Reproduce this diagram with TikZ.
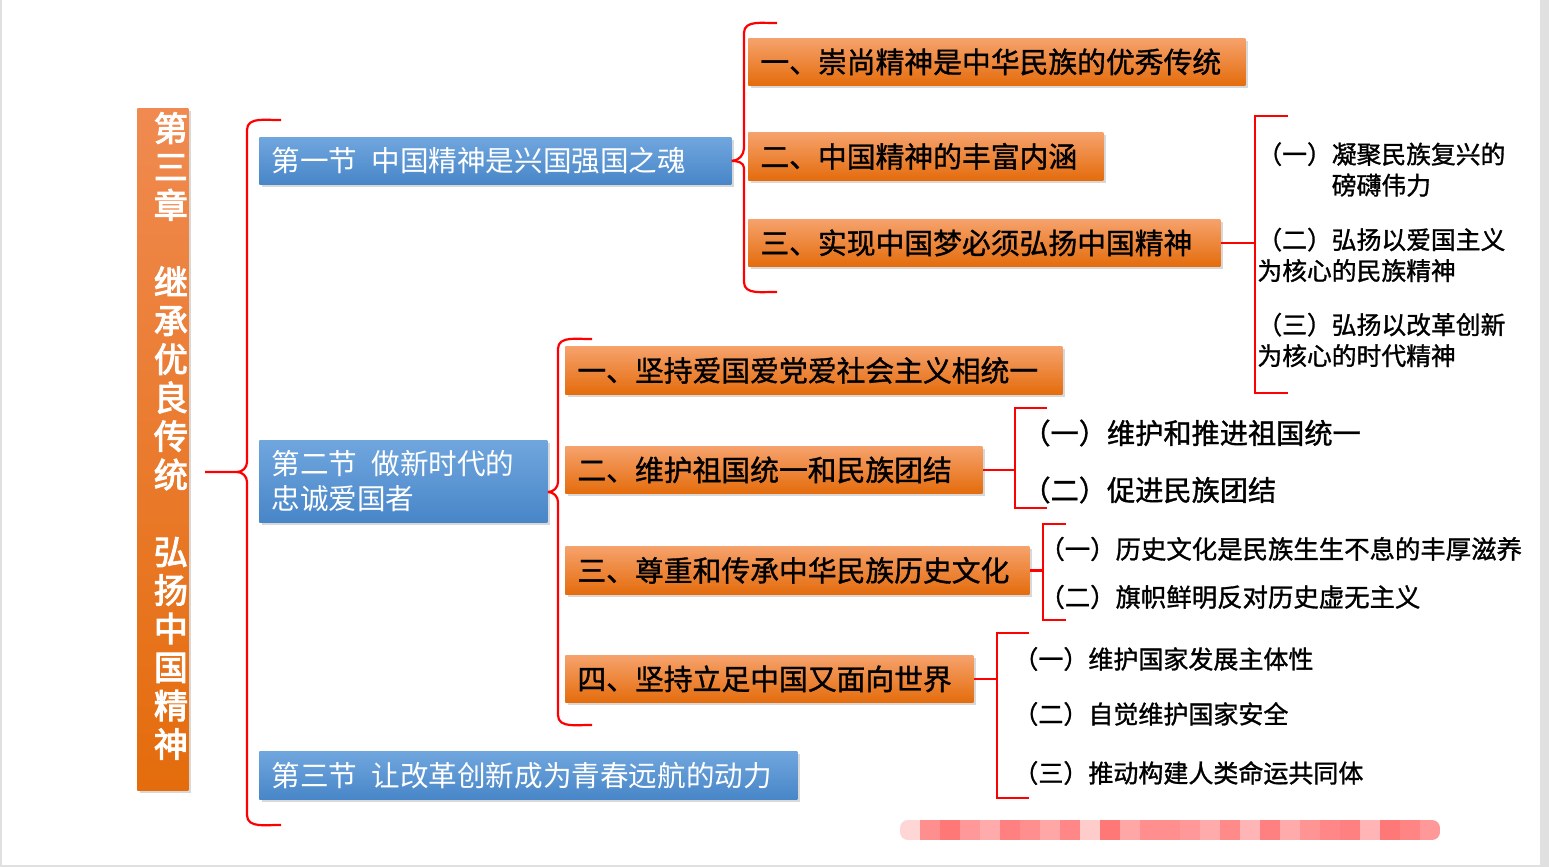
\documentclass[tikz,border=0pt]{standalone}
\usepackage{fontspec}
\setmainfont{Noto Sans CJK SC}
\newfontfamily\heavycjk{Noto Sans CJK SC}[FakeBold=1.2]
\newfontfamily\titlecjk{Noto Sans CJK SC}[FakeBold=3]
\usepackage{tikz}
\usetikzlibrary{shadows, calc}
\usepackage{xcolor}
\definecolor{titletop}{RGB}{240, 138, 80}
\definecolor{orangetop}{RGB}{246, 162, 108}
\definecolor{orangebottom}{RGB}{228, 108, 12}
\definecolor{bluetop}{RGB}{112, 166, 222}
\definecolor{bluebottom}{RGB}{72, 134, 200}
\definecolor{linered}{RGB}{255, 0, 0}
\definecolor{framegray}{RGB}{224, 224, 224}
\tikzset{
    tbox/.style={anchor=north west, top color=titletop, bottom color=orangebottom, inner sep=0pt,
        drop shadow={shadow xshift=1.5pt, shadow yshift=-1.5pt, opacity=0.3}},
    obox/.style={anchor=north west, top color=orangetop, bottom color=orangebottom, inner xsep=6pt, inner ysep=0pt,
        align=left, text=black, font=\heavycjk\fontsize{14.4}{17}\selectfont,
        drop shadow={shadow xshift=1.5pt, shadow yshift=-1.5pt, opacity=0.3}},
    bbox/.style={anchor=north west, top color=bluetop, bottom color=bluebottom, inner xsep=6pt, inner ysep=0pt,
        align=left, text=white, font=\fontsize{14.3}{17.5}\selectfont,
        drop shadow={shadow xshift=1.5pt, shadow yshift=-1.5pt, opacity=0.3}},
    item/.style={anchor=west, inner sep=0pt, align=left, text=black},
    redline/.style={draw=linered, line width=1.1pt},
}

\begin{document}
\begin{tikzpicture}[x=0.5pt, y=-0.5pt]
    \useasboundingbox (0,0) rectangle (1549,867);
    \fill[white] (0,0) rectangle (1549,867);
    \fill[framegray] (1540,0) rectangle (1549,867);
    \draw[framegray, line width=1pt] (1,0) -- (1,866) -- (1540,866);

    \node (title) [tbox, minimum width=25.5pt, minimum height=341pt] at (137,108) {};
    \node (titletext) [text=white, inner sep=0pt, align=center, font=\titlecjk\fontsize{17}{19.25}\selectfont]
        at ($(title.north)+(8,328)$) {第\\三\\章\\[19.25pt]继\\承\\优\\良\\传\\统\\[19.25pt]弘\\扬\\中\\国\\精\\神};

    \node (s1) [bbox, text width=224pt, minimum height=23.5pt] at (259,137) {第一节\hspace{0.5em}中国精神是兴国强国之魂};
    \node (s2) [bbox, text width=132pt, minimum height=41pt] at (259,440) {第二节\hspace{0.5em}做新时代的\\忠诚爱国者};
    \node (s3) [bbox, text width=257pt, minimum height=24pt] at (259,751) {第三节\hspace{0.5em}让改革创新成为青春远航的动力};

    \node (o1) [obox, text width=236.5pt, minimum height=23.5pt] at (748,38) {一、崇尚精神是中华民族的优秀传统};
    \node (o2) [obox, text width=165.5pt, minimum height=24pt] at (748,132) {二、中国精神的丰富内涵};
    \node (o3) [obox, text width=224pt, minimum height=23.5pt] at (748,219) {三、实现中国梦必须弘扬中国精神};

    \node (p1) [obox, text width=236.5pt, minimum height=24pt] at (565,346) {一、坚持爱国爱党爱社会主义相统一};
    \node (p2) [obox, text width=196.5pt, minimum height=23.5pt] at (565,446) {二、维护祖国统一和民族团结};
    \node (p3) [obox, text width=220pt, minimum height=24pt] at (565,546) {三、尊重和传承中华民族历史文化};
    \node (p4) [obox, text width=192pt, minimum height=23.5pt] at (565,655) {四、坚持立足中国又面向世界};

    \node (a1) [item, font=\heavycjk\fontsize{12.4}{15.5}\selectfont] at (1257,169.5) {（一）凝聚民族复兴的\\\hspace*{3em}磅礴伟力};
    \node (a2) [item, font=\heavycjk\fontsize{12.4}{15.5}\selectfont] at (1257,255) {（二）弘扬以爱国主义\\为核心的民族精神};
    \node (a3) [item, font=\heavycjk\fontsize{12.4}{15.5}\selectfont] at (1257,340) {（三）弘扬以改革创新\\为核心的时代精神};

    \node (b1) [item, font=\heavycjk\fontsize{14.1}{17}\selectfont] at (1022,433) {（一）维护和推进祖国统一};
    \node (b2) [item, font=\heavycjk\fontsize{14.1}{17}\selectfont] at (1022,490) {（二）促进民族团结};

    \node (c1) [item, font=\heavycjk\fontsize{12.7}{15}\selectfont] at (1039,549) {（一）历史文化是民族生生不息的丰厚滋养};
    \node (c2) [item, font=\heavycjk\fontsize{12.7}{15}\selectfont] at (1039,597) {（二）旗帜鲜明反对历史虚无主义};

    \node (d1) [item, font=\heavycjk\fontsize{12.5}{15}\selectfont] at (1013,659) {（一）维护国家发展主体性};
    \node (d2) [item, font=\heavycjk\fontsize{12.5}{15}\selectfont] at (1013,714) {（二）自觉维护国家安全};
    \node (d3) [item, font=\heavycjk\fontsize{12.5}{15}\selectfont] at (1013,773) {（三）推动构建人类命运共同体};

    \coordinate (tip1) at (205,472);
    \coordinate (tip3) at (548,492);
    \draw[redline] (tip1) -- (237,472) to[out=0, in=-90] (247,462) -- (247,130) to[out=90, in=182] (281,120);
    \draw[redline] (237,472) to[out=0, in=90] (247,482) -- (247,815) to[out=-90, in=178] (281,825);
    \draw[redline] (s1.east) to[out=0, in=-90] (744,148) -- (744,33) to[out=90, in=182] (777,23);
    \draw[redline] (s1.east) to[out=0, in=90] (744,168) -- (744,282) to[out=-90, in=178] (777,292);
    \draw[redline] (tip3) to[out=0, in=-90] (558,482) -- (558,349) to[out=90, in=182] (592,339);
    \draw[redline] (tip3) to[out=0, in=90] (558,502) -- (558,715) to[out=-90, in=178] (592,725);

    \draw[redline] (o3.east) -- ++(35,0);
    \draw[redline] (1288,116) -| (1255,393) -- (1288,393);
    \draw[redline] (p2.east) -- ++(33,0);
    \draw[redline] (1047,408) -| (1015,508) -- (1047,508);
    \draw[redline] (p3.east) -- ++(14,0);
    \draw[redline] (1066,524) -| (1043,620) -- (1066,620);
    \draw[redline] (p4.east) -- ++(24,0);
    \draw[redline] (1029,633) -| (997,798) -- (1029,798);

    \begin{scope}
        \clip[rounded corners=4pt] (900,820) rectangle (1440,840);
        \foreach \tone [count=\k] in {16,44,53,40,33,50,44,35,47,20,53,35,44,44,40,33,46,29,50,33,42,47,50,29,53,48,40}
            \fill[linered!\tone] ({900+20*(\k-1)},820) rectangle ++(20,20);
    \end{scope}
\end{tikzpicture}
\end{document}
